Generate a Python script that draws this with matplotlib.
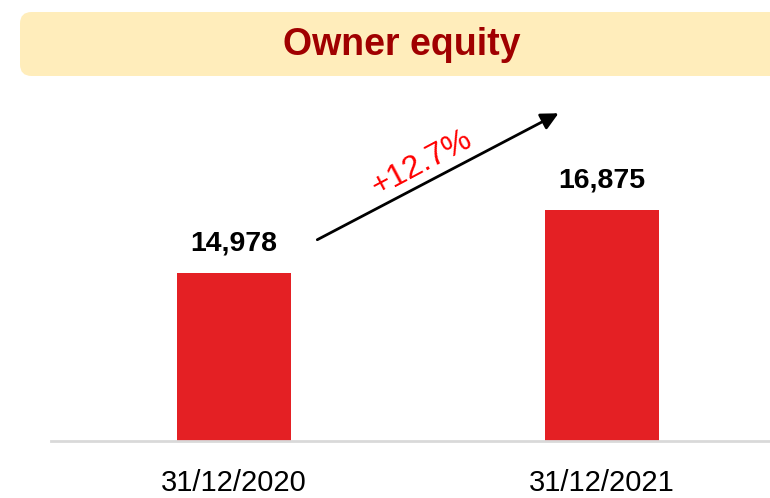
import matplotlib
matplotlib.use('Agg')
import matplotlib.pyplot as plt
from matplotlib.patches import FancyBboxPatch

# data
dates = ['31/12/2020', '31/12/2021']
equity = [14978, 16875]
value_labels = ['14,978', '16,875']
growth_label = '+12.7%'
title = 'Owner equity'

W, H = 770, 498
fig = plt.figure(figsize=(W / 100, H / 100), dpi=100)

# title banner
banner = FancyBboxPatch((20 / W, (H - 76) / H), 800 / W, 64 / H,
                        boxstyle='round,pad=0,rounding_size=0.015',
                        transform=fig.transFigure, facecolor='#FFEDBB',
                        edgecolor='none', mutation_aspect=W / H)
fig.patches.append(banner)
fig.text(402 / W, (H - 45) / H, title, ha='center', va='center',
         fontsize=27, fontweight='bold', color='#A00000',
         family=['Liberation Sans', 'DejaVu Sans'])

# plotting area: baseline at y=441 px, left edge of axis line at x=51 px
ax = fig.add_axes([51 / W, (H - 441) / H, 1 - 51 / W, 341 / H])
x = range(len(dates))
ax.bar(x, equity, width=0.31, color='#E42024')
ax.set_xlim(-0.497, 1.457)
ax.set_ylim(9919, 20187)

for xi, v, lab in zip(x, equity, value_labels):
    ax.annotate(lab, (xi, v), xytext=(0, 12), textcoords='offset points',
                ha='center', va='bottom', fontsize=20.5, fontweight='bold',
                family=['Liberation Sans', 'DejaVu Sans'])

ax.set_xticks(list(x))
ax.set_xticklabels(dates, fontsize=21,
                   family=['Liberation Sans Narrow', 'Liberation Sans', 'DejaVu Sans'])
ax.tick_params(axis='x', length=0, pad=20)
ax.set_yticks([])
for side in ['top', 'right', 'left']:
    ax.spines[side].set_visible(False)
ax.spines['bottom'].set_color('#D9D9D9')
ax.spines['bottom'].set_linewidth(2)

# growth arrow
ax.annotate('', xy=(0.889, 19826), xytext=(0.22, 15941),
            arrowprops=dict(arrowstyle='-|>', color='black', lw=2,
                            mutation_scale=26))
ax.text(0.51, 18280, growth_label, rotation=28, ha='center', va='center',
        fontsize=23, color='#FF0000', rotation_mode='anchor',
        family=['Liberation Sans', 'DejaVu Sans'])

fig.savefig('out.png', dpi=100)
